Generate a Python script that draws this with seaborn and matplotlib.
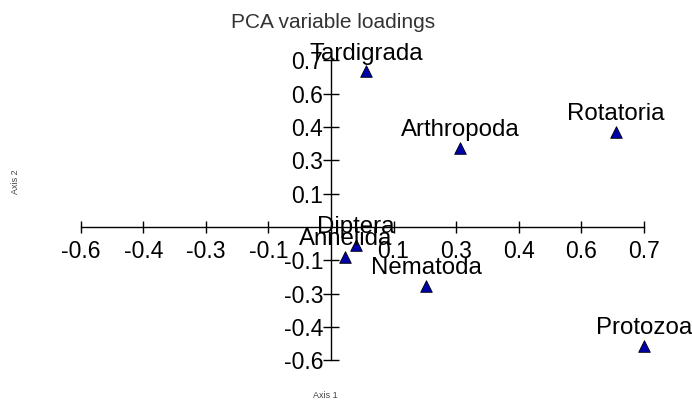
import numpy as np
import pandas as pd
import matplotlib
matplotlib.use("Agg")
import matplotlib.pyplot as plt
import seaborn as sns

# loadings
taxa = ["Tardigrada", "Arthropoda", "Rotatoria", "Diptera", "Annelida", "Nematoda", "Protozoa"]
axis1 = [0.084, 0.310, 0.684, 0.060, 0.034, 0.228, 0.751]
axis2 = [0.700, 0.356, 0.428, -0.081, -0.135, -0.266, -0.536]

# ticks at steps of 0.15, labels shown truncated to one decimal
tick_pos = [-0.6, -0.45, -0.3, -0.15, 0.15, 0.3, 0.45, 0.6, 0.75]
tick_lab = ["-0.6", "-0.4", "-0.3", "-0.1", "0.1", "0.3", "0.4", "0.6", "0.7"]

df = pd.DataFrame({"taxon": taxa, "Axis 1": axis1, "Axis 2": axis2})

sns.set_style("white")
plt.rcParams["font.family"] = ["Liberation Sans", "DejaVu Sans"]

fig = plt.figure(figsize=(6.92, 4.01), dpi=100)
ax = fig.add_axes([0, 0, 1, 1])
ax.set_xlim(-0.794, 0.866)
ax.set_ylim(-0.784, 1.022)

sns.scatterplot(data=df, x="Axis 1", y="Axis 2", marker="^", s=70,
                color="#0000a8", edgecolor="black", linewidth=0.6, ax=ax, zorder=3)

for _, r in df.iterrows():
    ax.annotate(r["taxon"], (r["Axis 1"], r["Axis 2"]), xytext=(0, 8.5),
                textcoords="offset points", ha="center", va="baseline",
                fontsize=17.3, color="black", zorder=4)

# axes crossing at the origin
for side in ["top", "right"]:
    ax.spines[side].set_visible(False)
ax.spines["left"].set_position(("data", 0))
ax.spines["bottom"].set_position(("data", 0))
ax.spines["left"].set_bounds(-0.6, 0.75)
ax.spines["bottom"].set_bounds(-0.6, 0.75)
for side in ["left", "bottom"]:
    ax.spines[side].set_color("black")
    ax.spines[side].set_linewidth(1.0)

ax.set_xticks(tick_pos)
ax.set_xticklabels(tick_lab)
ax.set_yticks(tick_pos)
ax.set_yticklabels(tick_lab)
ax.tick_params(axis="both", bottom=True, left=True, direction="inout", width=1.0,
               color="black", labelsize=16.5, labelcolor="black")
ax.tick_params(axis="x", length=8.6, pad=5)
ax.tick_params(axis="y", length=11.5, pad=0)
ax.set_xlabel("")
ax.set_ylabel("")
ax.grid(False)

fig.text(333 / 692, 1 - 22 / 401, "PCA variable loadings", ha="center", va="center",
         fontsize=15, color="#333333")
fig.text(325 / 692, 1 - 395 / 401, "Axis 1", ha="center", va="center",
         fontsize=6.5, color="#444444")
fig.text(15 / 692, 1 - 182 / 401, "Axis 2", ha="center", va="center",
         rotation=90, fontsize=6.5, color="#444444")

fig.savefig("out.png", dpi=100)
